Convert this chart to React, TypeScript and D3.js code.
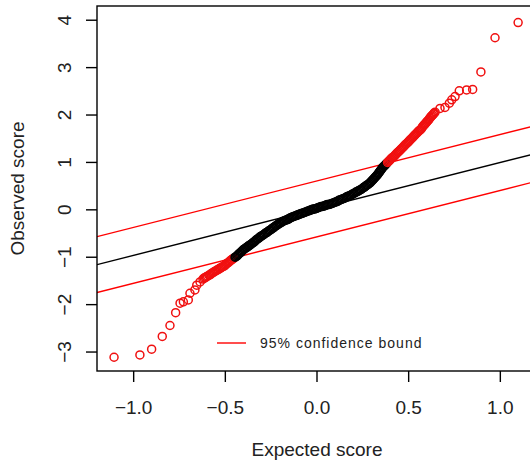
import React from "react";
import * as d3 from "d3";

const lowerTail = [
  [-1.107, -3.11], [-0.966, -3.06], [-0.902, -2.94], [-0.844, -2.67], [-0.802, -2.44],
  [-0.771, -2.17], [-0.747, -1.97], [-0.729, -1.94], [-0.702, -1.9], [-0.693, -1.76],
  [-0.666, -1.69], [-0.656, -1.59], [-0.638, -1.52],
];

const lowerBand = [
  [-0.622, -1.46], [-0.616, -1.44], [-0.609, -1.43], [-0.603, -1.41], [-0.597, -1.4], [-0.59, -1.38],
  [-0.584, -1.37], [-0.578, -1.35], [-0.571, -1.33], [-0.565, -1.32], [-0.559, -1.3], [-0.552, -1.29],
  [-0.546, -1.27], [-0.539, -1.26], [-0.533, -1.24], [-0.526, -1.23], [-0.52, -1.21], [-0.514, -1.2],
  [-0.507, -1.19], [-0.502, -1.17], [-0.497, -1.15], [-0.491, -1.13], [-0.486, -1.12], [-0.48, -1.1],
  [-0.475, -1.08], [-0.469, -1.06], [-0.464, -1.05], [-0.458, -1.03], [-0.453, -1.02], [-0.447, -1.0],
  [-0.442, -0.99], [-0.436, -0.97],
];

const middleBand = [
  [-0.431, -0.95], [-0.426, -0.93], [-0.42, -0.91], [-0.415, -0.89], [-0.409, -0.87],
  [-0.404, -0.85], [-0.398, -0.83], [-0.393, -0.82], [-0.388, -0.8], [-0.382, -0.79], [-0.377, -0.77], [-0.371, -0.76],
  [-0.366, -0.74], [-0.36, -0.73], [-0.355, -0.71], [-0.349, -0.69], [-0.344, -0.68], [-0.338, -0.66],
  [-0.333, -0.64], [-0.327, -0.62], [-0.322, -0.61], [-0.316, -0.59],
  [-0.311, -0.57], [-0.305, -0.56], [-0.299, -0.54], [-0.293, -0.53], [-0.287, -0.51], [-0.281, -0.49],
  [-0.274, -0.48], [-0.268, -0.46], [-0.262, -0.44],
  [-0.256, -0.43], [-0.25, -0.41], [-0.244, -0.39], [-0.238, -0.38], [-0.232, -0.36], [-0.226, -0.34],
  [-0.22, -0.33], [-0.214, -0.31], [-0.208, -0.29],
  [-0.202, -0.28], [-0.196, -0.27], [-0.19, -0.25], [-0.184, -0.24], [-0.178, -0.23], [-0.171, -0.22],
  [-0.165, -0.21], [-0.159, -0.2], [-0.153, -0.19],
  [-0.147, -0.17], [-0.14, -0.16], [-0.134, -0.15], [-0.127, -0.14], [-0.12, -0.13], [-0.113, -0.12],
  [-0.107, -0.11], [-0.1, -0.1],
  [-0.093, -0.09], [-0.086, -0.08], [-0.079, -0.07], [-0.072, -0.06], [-0.065, -0.05], [-0.058, -0.04],
  [-0.052, -0.03], [-0.045, -0.02],
  [-0.038, -0.01], [-0.031, 0.0], [-0.024, 0.01], [-0.018, 0.02], [-0.011, 0.02], [-0.004, 0.03],
  [0.003, 0.04], [0.009, 0.05],
  [0.016, 0.06], [0.023, 0.07], [0.03, 0.07], [0.037, 0.08], [0.044, 0.09], [0.05, 0.1],
  [0.057, 0.11], [0.064, 0.11],
  [0.071, 0.12], [0.078, 0.13], [0.085, 0.14], [0.092, 0.15], [0.098, 0.16], [0.105, 0.17],
  [0.112, 0.18], [0.119, 0.2],
  [0.126, 0.21], [0.132, 0.22], [0.139, 0.23], [0.146, 0.24], [0.153, 0.25], [0.16, 0.27],
  [0.166, 0.28], [0.173, 0.29],
  [0.18, 0.3], [0.186, 0.31], [0.192, 0.33], [0.198, 0.34], [0.204, 0.35], [0.21, 0.37],
  [0.216, 0.38], [0.223, 0.39], [0.229, 0.41],
  [0.235, 0.42], [0.241, 0.43], [0.247, 0.45], [0.253, 0.47], [0.259, 0.48], [0.265, 0.5],
  [0.271, 0.52], [0.277, 0.53], [0.283, 0.55],
  [0.289, 0.57], [0.294, 0.59], [0.299, 0.61], [0.304, 0.63], [0.308, 0.65], [0.313, 0.67],
  [0.318, 0.69], [0.323, 0.71], [0.328, 0.73],
  [0.333, 0.76], [0.337, 0.78], [0.341, 0.8], [0.345, 0.82], [0.348, 0.84], [0.352, 0.86], [0.356, 0.88],
];

const upperBand = [
  [0.36, 0.9], [0.365, 0.92], [0.37, 0.94], [0.375, 0.96], [0.38, 0.98], [0.385, 1.0],
  [0.39, 1.02], [0.395, 1.04], [0.4, 1.06], [0.405, 1.08], [0.41, 1.1],
  [0.415, 1.11], [0.42, 1.13], [0.425, 1.15], [0.43, 1.17], [0.435, 1.19], [0.44, 1.21],
  [0.445, 1.23], [0.451, 1.25], [0.456, 1.27], [0.461, 1.29], [0.466, 1.31], [0.471, 1.33],
  [0.476, 1.35], [0.481, 1.37], [0.486, 1.39], [0.492, 1.41], [0.497, 1.43], [0.502, 1.45],
  [0.507, 1.47], [0.512, 1.49], [0.517, 1.51], [0.522, 1.53], [0.527, 1.55], [0.532, 1.57],
  [0.537, 1.59], [0.542, 1.61], [0.547, 1.63], [0.552, 1.65], [0.557, 1.67],
  [0.562, 1.68], [0.566, 1.7], [0.571, 1.72], [0.575, 1.75], [0.58, 1.77], [0.584, 1.79],
  [0.589, 1.81], [0.593, 1.83], [0.598, 1.85], [0.602, 1.87], [0.607, 1.89], [0.611, 1.91],
  [0.616, 1.94], [0.621, 1.96], [0.625, 1.98], [0.63, 2.0], [0.635, 2.02], [0.639, 2.04], [0.644, 2.06],
];

const upperTail = [
  [0.671, 2.14], [0.698, 2.16], [0.722, 2.25], [0.735, 2.32], [0.753, 2.39], [0.776, 2.51],
  [0.816, 2.53], [0.849, 2.54], [0.894, 2.91], [0.971, 3.63], [1.097, 3.95],
];

// reference line and 95% band
const refIntercept = 0.02;
const refSlope = 0.98;
const bandHalfWidth = 0.59;

const xTicks = [-1, -0.5, 0, 0.5, 1];
const xTickLabels = ["\u22121.0", "\u22120.5", "0.0", "0.5", "1.0"];
const yTicks = [-3, -2, -1, 0, 1, 2, 3, 4];
const yTickLabels = ["\u22123", "\u22122", "\u22121", "0", "1", "2", "3", "4"];

const width = 530;
const height = 465;
const plot = { left: 97, top: 6, right: 537, bottom: 371 };
const font = "'Liberation Sans', Arial, Helvetica, sans-serif";

const App = () => {
  const x = d3.scaleLinear().domain([-1.2, 1.2]).range([plot.left, plot.right]);
  const y = d3.scaleLinear().domain([-3.4, 4.3]).range([plot.bottom, plot.top]);

  const points = [...lowerTail, ...lowerBand, ...middleBand, ...upperBand, ...upperTail];
  const fit = (v: number) => refIntercept + refSlope * v;
  const outside = (d: number[]) => Math.abs(d[1] - fit(d[0])) > bandHalfWidth;

  const refLine = (offset: number) => {
    const [x0, x1] = x.domain();
    return {
      x1: x(x0), y1: y(fit(x0) + offset),
      x2: x(x1), y2: y(fit(x1) + offset),
    };
  };

  const tickLen = 11;

  return (
    <svg
      width={width}
      height={height}
      style={{ position: "absolute", left: 0, top: 0, background: "#fff" }}
      fontFamily={font}
    >
      <defs>
        <clipPath id="plotArea">
          <rect x={plot.left} y={plot.top} width={plot.right - plot.left} height={plot.bottom - plot.top} />
        </clipPath>
      </defs>

      <g clipPath="url(#plotArea)">
        <line {...refLine(0)} stroke="#000" strokeWidth={1.4} />
        <line {...refLine(bandHalfWidth)} stroke="#ff0000" strokeWidth={1.4} />
        <line {...refLine(-bandHalfWidth)} stroke="#ff0000" strokeWidth={1.4} />
        {points.map((d, i) => (
          <circle
            key={i}
            cx={x(d[0])}
            cy={y(d[1])}
            r={4}
            fill="none"
            stroke={outside(d) ? "#f01010" : "#000"}
            strokeWidth={1.5}
          />
        ))}
      </g>

      <rect
        x={plot.left}
        y={plot.top}
        width={plot.right - plot.left}
        height={plot.bottom - plot.top}
        fill="none"
        stroke="#000"
        strokeWidth={1.4}
      />

      {/* x axis */}
      {xTicks.map((t, i) => (
        <g key={t}>
          <line x1={x(t)} x2={x(t)} y1={plot.bottom} y2={plot.bottom + tickLen} stroke="#000" strokeWidth={1.4} />
          <text x={x(t)} y={414} textAnchor="middle" fontSize={19} fill="#222">
            {xTickLabels[i]}
          </text>
        </g>
      ))}
      <text x={317} y={456} textAnchor="middle" fontSize={19} fill="#222">
        Expected score
      </text>

      {/* y axis */}
      {yTicks.map((t, i) => (
        <g key={t}>
          <line x1={plot.left - tickLen} x2={plot.left} y1={y(t)} y2={y(t)} stroke="#000" strokeWidth={1.4} />
          <text
            transform={`translate(71,${y(t)}) rotate(-90)`}
            textAnchor="middle"
            fontSize={19}
            fill="#222"
          >
            {yTickLabels[i]}
          </text>
        </g>
      ))}
      <text
        transform={`translate(24,${(plot.top + plot.bottom) / 2}) rotate(-90)`}
        textAnchor="middle"
        fontSize={19}
        fill="#222"
      >
        Observed score
      </text>

      {/* legend */}
      <line x1={217} x2={246} y1={343} y2={343} stroke="#ff0000" strokeWidth={1.4} />
      <text x={260} y={348} fontSize={14} letterSpacing={1} fill="#222">
        95% confidence bound
      </text>
    </svg>
  );
};

export default App;
